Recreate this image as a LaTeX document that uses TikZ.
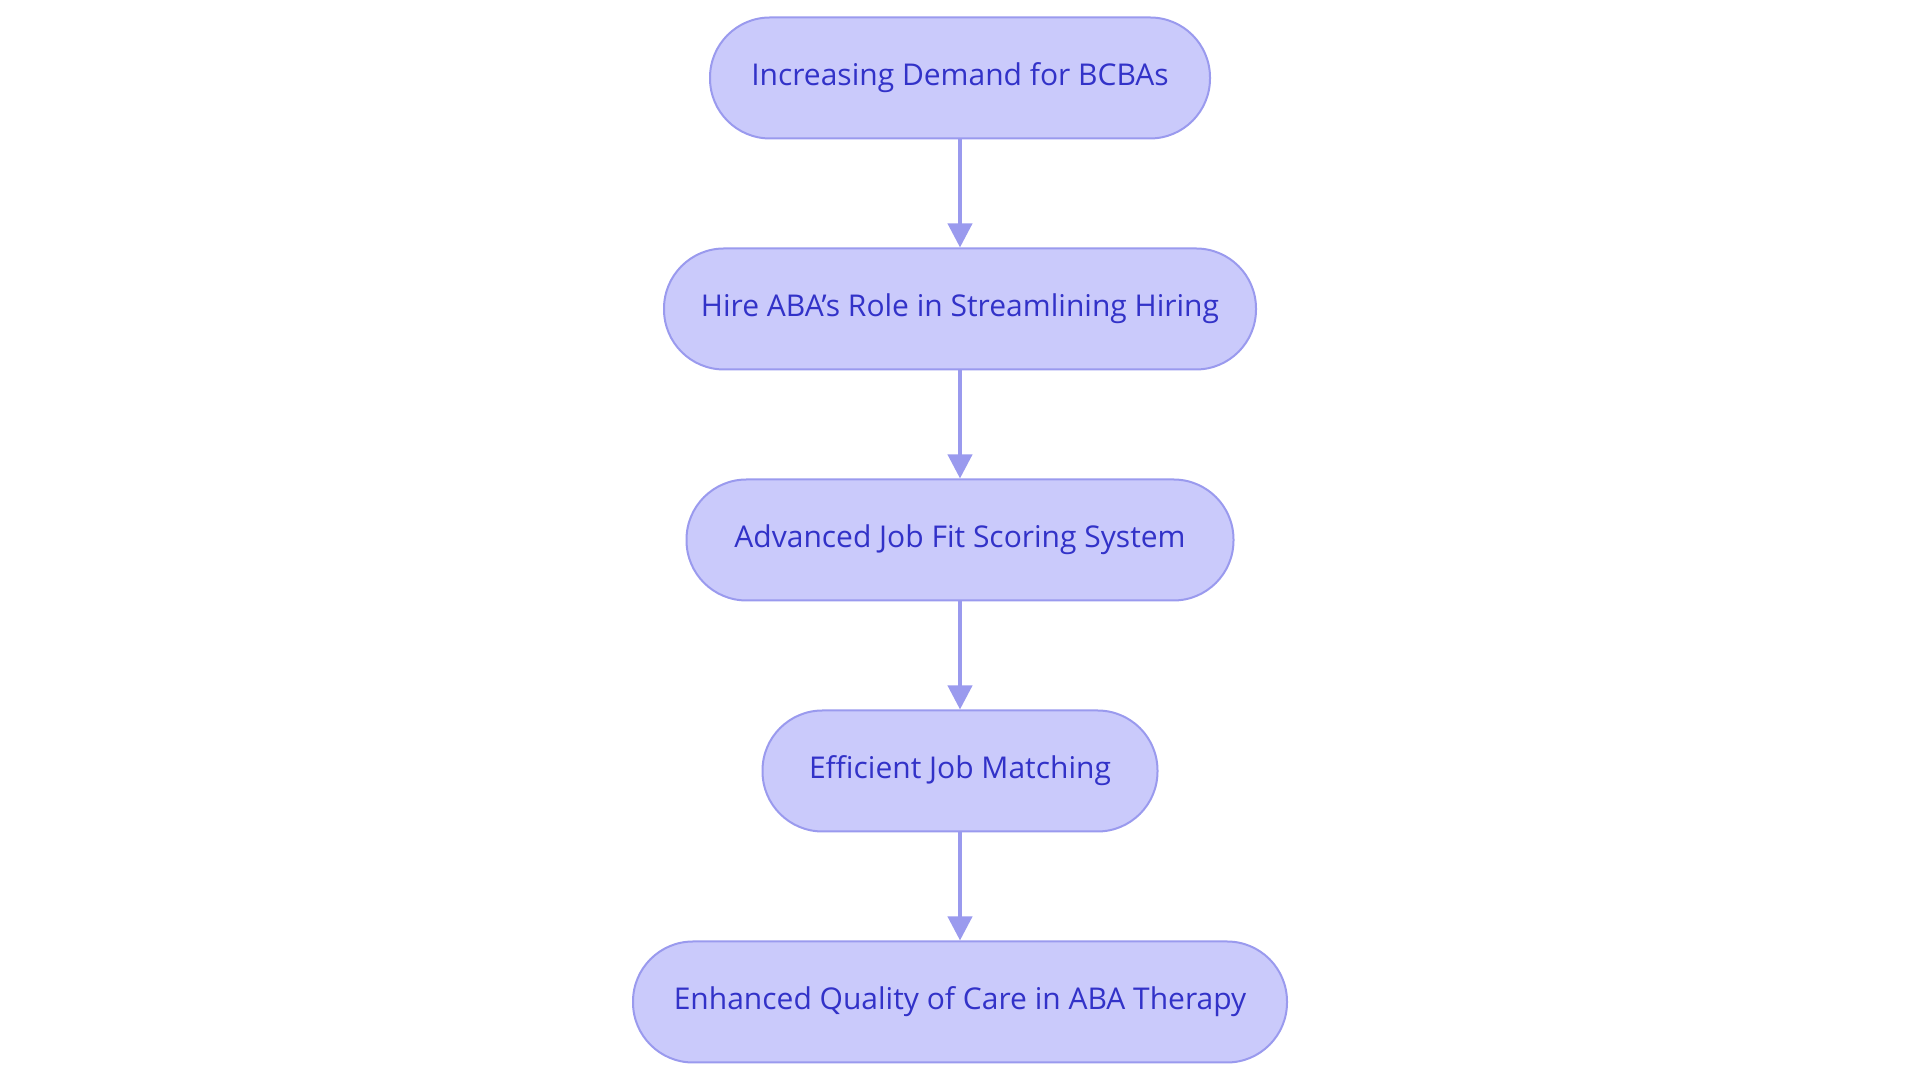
\documentclass[tikz,border=0pt]{standalone}
\usepackage{fontspec}
\setmainfont{Open Sans}
\usetikzlibrary{arrows.meta,positioning}
\definecolor{boxfill}{HTML}{CACAFB}
\definecolor{boxline}{HTML}{9A9AEE}
\definecolor{boxtext}{HTML}{3232C8}
\begin{document}
\begin{tikzpicture}[x=1pt,y=1pt,node distance=108pt,
  stage/.style={draw=boxline,line width=2pt,fill=boxfill,text=boxtext,rounded corners=60pt,minimum height=121pt,font=\fontsize{30}{36}\selectfont},
  flow/.style={draw=boxline,line width=4pt,-{Triangle[length=24pt,width=24pt]}}]
\useasboundingbox (0,0) rectangle (1920,1083);
\node[stage,minimum width=500pt] (demand) at (960,1005) {Increasing Demand for BCBAs};
\node[stage,minimum width=592pt,below=of demand] (hire) {Hire ABA’s Role in Streamlining Hiring};
\node[stage,minimum width=547pt,below=of hire] (scoring) {Advanced Job Fit Scoring System};
\node[stage,minimum width=395pt,below=of scoring] (matching) {Efficient Job Matching};
\node[stage,minimum width=654pt,below=of matching] (care) {Enhanced Quality of Care in ABA Therapy};
\draw[flow] (demand) -- (hire);
\draw[flow] (hire) -- (scoring);
\draw[flow] (scoring) -- (matching);
\draw[flow] (matching) -- (care);
\end{tikzpicture}
\end{document}
